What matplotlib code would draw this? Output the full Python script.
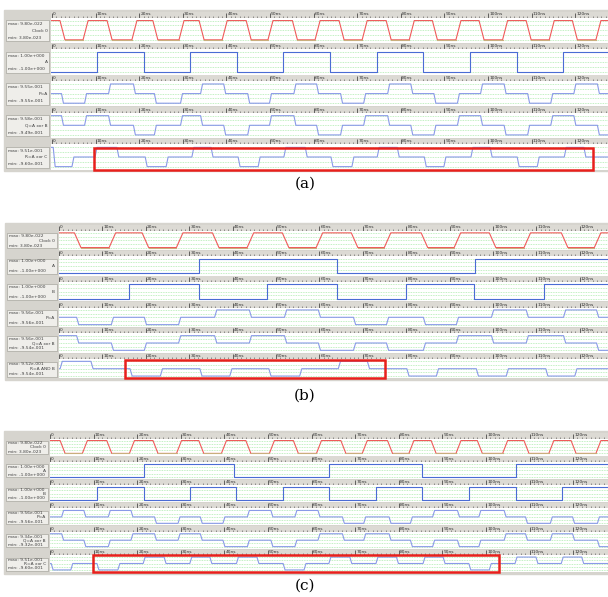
import matplotlib
matplotlib.use("Agg")
import matplotlib.pyplot as plt
from matplotlib.ticker import MultipleLocator
from matplotlib.patches import Rectangle

# ruler labels (ns)
tick_times = [0, 10, 20, 30, 40, 50, 60, 70, 80, 90, 100, 110, 120]
tick_labels = ['0', '10ns', '20ns', '30ns', '40ns', '50ns', '60ns', '70ns',
               '80ns', '90ns', '100ns', '110ns', '120ns']

# ---------------- panel (a) ----------------
a_clock_edges = [2.4, 7.7, 13.2, 18.9, 23.7, 29.7, 34.3, 39.6, 45.1, 50.1, 55.7, 60.9,
                 66.4, 71.7, 77.2, 82.5, 87.8, 93.2, 98.5, 103.9, 109.3, 114.6, 119.9, 125.3]
a_clock = [1, -1, 1, -1, 1, -1, 1, -1, 1, -1, 1, -1, 1, -1, 1, -1, 1, -1, 1, -1, 1, -1, 1, -1, 1]
a_A_edges = [10.3, 21.1, 31.7, 42.4, 53.0, 63.8, 74.5, 85.1, 95.9, 106.7, 117.2]
a_A = [-1, 1, -1, 1, -1, 1, -1, 1, -1, 1, -1, 1]
a_P = [0, -1, 0, 1, 0, -1, 0, 1, 0, -1, 0, 1, 0, -1, 0, 1, 0, -1, 0, 1, 0, -1, 0, 1, 0]
a_Q = [1, 0, 1, 0, -1, 0, 1, 0, -1, 0, 1, 0, -1, 0, 1, 0, -1, 0, 1, 0, -1, 0, 1, 0, -1]
a_R_edges = [0.5, 4.8, 10.1, 15.1, 21.6, 26.4, 32.3, 36.7, 42.9, 47.5, 53.4, 58.3,
             64.2, 69.0, 74.8, 79.4, 85.6, 90.1, 96.3, 100.7, 106.9, 111.5, 117.7, 122.2]
a_R = [1, -1, 0, 1, 0, -1, 0, 1, 0, -1, 0, 1, 0, -1, 0, 1, 0, -1, 0, 1, 0, -1, 0, 1, 0]
a_names = ['Clock 0', 'A', 'P=A', 'Q=A xor B', 'R=A xor C']
a_max = ['9.80e-022', '1.00e+000', '9.55e-001', '9.58e-001', '9.51e-001']
a_min = ['3.80e-023', '-1.00e+000', '-9.55e-001', '-9.49e-001', '-9.60e-001']

# ---------------- panel (b) ----------------
b_clock_edges = [4.3, 12.3, 19.9, 27.8, 36.1, 44.1, 52.2, 60.0, 68.1, 75.7, 84.2, 91.8,
                 99.9, 107.9, 116.5, 124.1]
b_clock = [1, -1, 1, -1, 1, -1, 1, -1, 1, -1, 1, -1, 1, -1, 1, -1, 1]
b_A_edges = [32.3, 64.1, 95.9]
b_A = [-1, 1, -1, 1]
b_B_edges = [16.1, 32.3, 47.9, 64.1, 80.0, 95.6, 111.8]
b_B = [-1, 1, -1, 1, -1, 1, -1, 1]
b_P = [0, -1, 0, -1, 0, 1, 0, 1, 0, -1, 0, -1, 0, 1, 0, 1, 0]
b_Q = [1, 0, -1, 0, 1, 0, 1, 0, -1, 0, -1, 0, 1, 0, 1, 0, -1]
b_R_edges = [0.5, 7.6, 16.6, 23.6, 32.7, 39.6, 48.6, 55.7, 64.6, 71.3, 80.4, 87.2,
             96.4, 103.3, 112.4, 119.1]
b_R = [0, 1, 0, -1, 0, -1, 0, -1, 0, 1, 0, -1, 0, -1, 0, -1, 0]
b_names = ['Clock 0', 'A', 'B', 'P=A', 'Q=A xor B', 'R=A AND B']
b_max = ['9.80e-022', '1.00e+000', '1.00e+000', '9.56e-001', '9.56e-001', '9.52e-001']
b_min = ['3.80e-023', '-1.00e+000', '-1.00e+000', '-9.56e-001', '-9.54e-001', '-9.54e-001']

# ---------------- panel (c) ----------------
c_clock_edges = [2.9, 8.0, 13.6, 18.8, 24.2, 29.6, 34.7, 39.9, 45.5, 50.9, 56.4, 61.7,
                 67.3, 72.2, 78.0, 82.9, 88.0, 93.7, 98.6, 104.4, 109.3, 115.0, 120.1, 125.8]
c_clock = [1, -1, 1, -1, 1, -1, 1, -1, 1, -1, 1, -1, 1, -1, 1, -1, 1, -1, 1, -1, 1, -1, 1, -1, 1]
c_A_edges = [21.6, 42.2, 64.0, 85.3, 106.9]
c_A = [-1, 1, -1, 1, -1, 1]
c_B_edges = [10.8, 21.6, 32.1, 42.7, 53.4, 64.0, 74.8, 85.3, 96.1, 106.9, 117.4]
c_B = [-1, 1, -1, 1, -1, 1, -1, 1, -1, 1, -1, 1]
c_P = [0, 1, 0, 1, 0, -1, 0, -1, 0, 1, 0, 1, 0, -1, 0, -1, 0, 1, 0, 1, 0, -1, 0, -1, 0]
c_Q = [1, 0, -1, 0, 1, 0, 1, 0, -1, 0, -1, 0, 1, 0, 1, 0, -1, 0, -1, 0, 1, 0, 1, 0, -1]
c_R_edges = [0.5, 5.0, 11.0, 15.8, 21.6, 26.4, 32.3, 36.9, 43.0, 47.7, 53.7, 58.5,
             64.2, 69.0, 75.0, 79.7, 85.8, 90.4, 96.3, 101.0, 106.9, 111.7, 117.5, 122.2]
c_R = [0, -1, 0, -1, 0, 1, 0, 1, 0, 1, 0, -1, 0, 1, 0, 1, 0, 1, 0, -1, 0, 1, 0, 1, 0]
c_names = ['Clock 0', 'A', 'B', 'P=A', 'Q=A xor B', 'R=A xor C']
c_max = ['9.80e-022', '1.00e+000', '1.00e+000', '9.56e-001', '9.34e-001', '9.51e-001']
c_min = ['3.80e-023', '-1.00e+000', '-1.00e+000', '-9.56e-001', '-9.32e-001', '-9.60e-001']

W, H = 608, 597
GREY = '#d6d4ce'
RULER = '#dcdad4'
RED = '#f05a5a'
TAN = '#c9ae7c'
BLUE = '#4a6cd4'
LBLUE = '#8a9ae8'

fig = plt.figure(figsize=(W / 100, H / 100), dpi=100)


def px_axes(x0, y0, x1, y1):
    return fig.add_axes([x0 / W, 1 - y1 / H, (x1 - x0) / W, (y1 - y0) / H])


def px_rect(x0, y0, x1, y1, **kw):
    r = Rectangle((x0 / W, 1 - y1 / H), (x1 - x0) / W, (y1 - y0) / H,
                  transform=fig.transFigure, **kw)
    fig.add_artist(r)
    return r


def trace(edges, levels, ramp, xlim):
    xs, ys = [xlim[0]], [levels[0]]
    for e, a, b in zip(edges, levels[:-1], levels[1:]):
        xs += [e - ramp / 2, e + ramp / 2]
        ys += [a, b]
    xs.append(xlim[1])
    ys.append(levels[-1])
    return xs, ys


def draw_panel(rows, names, maxs, mins, lab_x, wave_x, top, row_h, nrows, xlim,
               clock_ramp, sig_ramp):
    bottom = top + row_h * nrows
    px_rect(lab_x - 1, top - 2, W, bottom + 1, color=GREY, zorder=0)
    rh = 5.5
    for i in range(nrows):
        y0 = top + row_h * i
        y1 = y0 + row_h - 0.8
        # ruler
        axr = px_axes(wave_x, y0, W, y0 + rh)
        axr.set_facecolor(RULER)
        axr.set_xlim(xlim)
        axr.set_ylim(0, 1)
        for s in ['top', 'left', 'right']:
            axr.spines[s].set_visible(False)
        axr.spines['bottom'].set_color('#303030')
        axr.spines['bottom'].set_linewidth(0.7)
        axr.xaxis.set_major_locator(MultipleLocator(10))
        axr.xaxis.set_minor_locator(MultipleLocator(1))
        axr.tick_params(which='major', direction='in', length=rh * 0.72, width=0.5,
                        color='#303030', labelbottom=False)
        axr.tick_params(which='minor', direction='in', length=1.1, width=0.4,
                        color='#505050')
        axr.set_yticks([])
        for t, lab in zip(tick_times, tick_labels):
            axr.text(t + 0.25, 0.55, lab, fontsize=3.2, ha='left', va='center',
                     color='#303030')
        # signal area
        ax = px_axes(wave_x, y0 + rh, W, y1)
        ax.set_facecolor('white')
        ax.set_xlim(xlim)
        ax.set_ylim(-1.32, 1.32)
        ax.set_xticks([])
        ax.set_yticks([])
        for s in ax.spines.values():
            s.set_visible(False)
        for g in (-1, -0.5, 0, 0.5, 1):
            ax.axhline(g, color='#9ee89e', lw=0.5, ls=(0, (1.2, 1.2)), zorder=1)
        edges, levels, kind = rows[i]
        if kind == 'clock':
            xs, ys = trace(edges, levels, clock_ramp, xlim)
            ax.plot(xs, ys, color=RED, lw=0.8, zorder=3)
            bounds = [xlim[0]] + list(edges) + [xlim[1]]
            for k, lv in enumerate(levels):
                if lv < 0:
                    ax.plot([bounds[k] + clock_ramp / 2, bounds[k + 1] - clock_ramp / 2],
                            [lv, lv], color=TAN, lw=0.8, zorder=4)
        elif kind == 'bin':
            xs, ys = trace(edges, levels, 0.0, xlim)
            ax.plot(xs, ys, color=BLUE, lw=0.8, zorder=3)
        else:
            xs, ys = trace(edges, levels, sig_ramp, xlim)
            ax.plot(xs, ys, color=LBLUE, lw=0.8, zorder=3)
        # label box
        bx0, bx1 = lab_x + 1, wave_x - 1.5
        by0, by1 = y0 + rh + 2.5, y1 - 1.5
        px_rect(bx0, by0, bx1, by1, facecolor='#efeeea', edgecolor='#9a9890',
                lw=0.4, zorder=1)
        ym = (by0 + by1) / 2
        gap = (by1 - by0) * 0.32
        fig.text((bx0 + 2) / W, 1 - (ym - gap) / H, 'max: ' + maxs[i], fontsize=3.2,
                 ha='left', va='center', color='#404040')
        fig.text((bx1 - 2) / W, 1 - ym / H, names[i], fontsize=3.2,
                 ha='right', va='center', color='#404040')
        fig.text((bx0 + 2) / W, 1 - (ym + gap) / H, 'min: ' + mins[i], fontsize=3.2,
                 ha='left', va='center', color='#404040')


# panel (a)
draw_panel([(a_clock_edges, a_clock, 'clock'), (a_A_edges, a_A, 'bin'),
            (a_clock_edges, a_P, 'sig'), (a_clock_edges, a_Q, 'sig'),
            (a_R_edges, a_R, 'sig')],
           a_names, a_max, a_min, lab_x=5, wave_x=51, top=12, row_h=31.7, nrows=5,
           xlim=(-0.23, 127.5), clock_ramp=1.15, sig_ramp=0.45)
px_rect(94, 148, 593, 170, fill=False, edgecolor='#e8201c', lw=1.8, zorder=10)
fig.text(305 / W, 1 - 184 / H, '(a)', fontsize=11, ha='center', va='center',
         family='DejaVu Serif')

# panel (b)
draw_panel([(b_clock_edges, b_clock, 'clock'), (b_A_edges, b_A, 'bin'),
            (b_B_edges, b_B, 'bin'), (b_clock_edges, b_P, 'sig'),
            (b_clock_edges, b_Q, 'sig'), (b_R_edges, b_R, 'sig')],
           b_names, b_max, b_min, lab_x=6, wave_x=58.5, top=225, row_h=25.7, nrows=6,
           xlim=(-0.12, 126.5), clock_ramp=1.5, sig_ramp=0.5)
px_rect(125, 360, 385, 378, fill=False, edgecolor='#e8201c', lw=1.8, zorder=10)
fig.text(305 / W, 1 - 396 / H, '(b)', fontsize=11, ha='center', va='center',
         family='DejaVu Serif')

# panel (c)
draw_panel([(c_clock_edges, c_clock, 'clock'), (c_A_edges, c_A, 'bin'),
            (c_B_edges, c_B, 'bin'), (c_clock_edges, c_P, 'sig'),
            (c_clock_edges, c_Q, 'sig'), (c_R_edges, c_R, 'sig')],
           c_names, c_max, c_min, lab_x=5, wave_x=49.5, top=433, row_h=23.3, nrows=6,
           xlim=(-0.11, 128.0), clock_ramp=1.15, sig_ramp=0.45)
px_rect(93, 555, 499, 572, fill=False, edgecolor='#e8201c', lw=1.8, zorder=10)
fig.text(305 / W, 1 - 586 / H, '(c)', fontsize=11, ha='center', va='center',
         family='DejaVu Serif')

plt.savefig('out.png', dpi=100)
